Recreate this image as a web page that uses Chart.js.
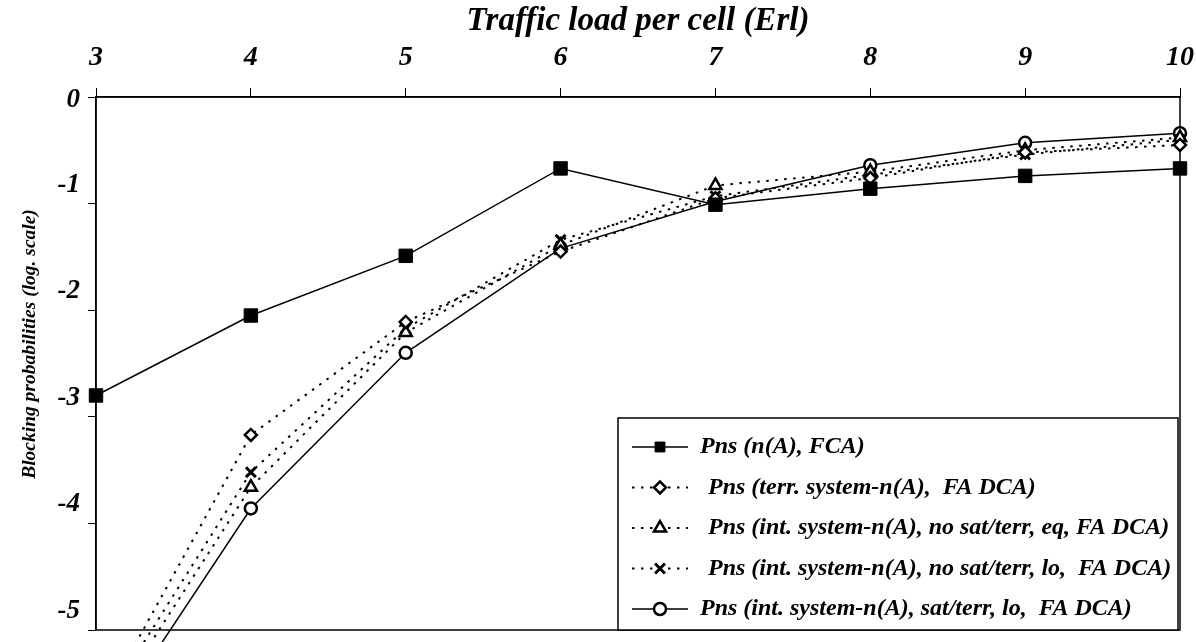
<!DOCTYPE html>
<html>
<head>
<meta charset="utf-8">
<script src="https://cdn.jsdelivr.net/npm/chart.js@4.4.0/dist/chart.umd.min.js"></script>
<style>
  html, body { margin: 0; padding: 0; background: #fff; }
</style>
</head>
<body>
<canvas id="chart" width="1196" height="642"></canvas>
<script>
// traffic load per cell (Erl)
const loads = [3, 4, 5, 6, 7, 8, 9, 10];

// log10 of blocking probability
const fcaValues      = [-2.80, -2.05, -1.49, -0.67, -1.01, -0.86, -0.74, -0.67];
const terrValues     = [-5.80, -3.17, -2.11, -1.45, -0.95, -0.76, -0.52, -0.45];
const intEqValues    = [-5.92, -3.66, -2.21, -1.39, -0.83, -0.70, -0.50, -0.38];
const intLoValues    = [-5.83, -3.52, -2.17, -1.34, -0.93, -0.73, -0.54, -0.40];
const satTerrValues  = [-6.05, -3.86, -2.40, -1.42, -0.98, -0.64, -0.43, -0.34];

const seriesLabels = [
	'Pns (n(A), FCA)',
	'Pns (terr. system-n(A),  FA DCA)',
	'Pns (int. system-n(A), no sat/terr, eq, FA DCA)',
	'Pns (int. system-n(A), no sat/terr, lo,  FA DCA)',
	'Pns (int. system-n(A), sat/terr, lo,  FA DCA)'
];

const xTitle = 'Traffic load per cell (Erl)';
const yTitle = 'Blocking probabilities (log. scale)';

const FONT = '"Liberation Serif", "Times New Roman", serif';
const dots = [2.5, 6.5];

const toPoints = vals => vals.map((v, i) => ({ x: loads[i], y: v }));

function series(label, vals, style, extra) {
	return Object.assign({
		label: label,
		data: toPoints(vals),
		borderColor: '#000',
		backgroundColor: '#000',
		pointBackgroundColor: '#fff',
		pointBorderColor: '#000',
		borderWidth: 1.5,
		pointStyle: style,
		pointRadius: 6,
		pointBorderWidth: 2.5,
		tension: 0,
		clip: false
	}, extra || {});
}

const datasets = [
	series(seriesLabels[0], fcaValues, 'rect', { pointRadius: 9.5, pointBackgroundColor: '#000', pointBorderWidth: 1 }),
	series(seriesLabels[1], terrValues, 'rectRot', { borderDash: dots, borderWidth: 2 }),
	series(seriesLabels[2], intEqValues, 'triangle', { borderDash: dots, borderWidth: 2, pointRadius: 7 }),
	series(seriesLabels[3], intLoValues, 'crossRot', { borderDash: dots, borderWidth: 2, pointRadius: 7, pointBorderWidth: 3 }),
	series(seriesLabels[4], satTerrValues, 'circle', {})
];

const TICK_FONT = 'italic bold 27px ' + FONT;

// plot frame, y title, the top "0" label and the boxed legend
const framePlugin = {
	id: 'frame',
	beforeDatasetsDraw(chart) {
		const { ctx, chartArea: a } = chart;
		ctx.save();
		ctx.strokeStyle = '#000';
		ctx.lineWidth = 1.5;
		ctx.strokeRect(a.left, a.top, a.right - a.left, a.bottom - a.top);

		// the "0" label sits on the top edge, the others are drawn a little high
		ctx.fillStyle = '#000';
		ctx.font = TICK_FONT;
		ctx.textAlign = 'right';
		ctx.textBaseline = 'middle';
		ctx.fillText('0', a.left - 16, chart.scales.y.getPixelForValue(0) + 3);

		ctx.translate(30, 344);
		ctx.rotate(-Math.PI / 2);
		ctx.font = 'italic bold 19.5px ' + FONT;
		ctx.textAlign = 'center';
		ctx.fillText(yTitle, 0, 0);
		ctx.restore();
	},
	afterDraw(chart) {
		const { ctx, chartArea: a } = chart;
		const w = 560, h = 212;
		const left = a.right - w - 2, top = a.bottom - h;
		ctx.save();
		ctx.fillStyle = '#fff';
		ctx.fillRect(left, top, w, h);
		ctx.strokeStyle = '#000';
		ctx.lineWidth = 1.5;
		ctx.strokeRect(left, top, w, h);

		chart.data.datasets.forEach((ds, i) => {
			const cy = top + 29 + i * 40.5;
			ctx.save();
			ctx.strokeStyle = '#000';
			ctx.lineWidth = ds.borderWidth;
			ctx.setLineDash(ds.borderDash || []);
			ctx.beginPath();
			ctx.moveTo(left + 14, cy);
			ctx.lineTo(left + 70, cy);
			ctx.stroke();
			ctx.setLineDash([]);
			ctx.fillStyle = ds.pointBackgroundColor;
			ctx.lineWidth = ds.pointBorderWidth;
			Chart.helpers.drawPoint(ctx, {
				pointStyle: ds.pointStyle,
				radius: ds.pointStyle === 'rect' ? 7 : ds.pointRadius,
				borderWidth: ds.pointBorderWidth,
				rotation: 0
			}, left + 42, cy);
			ctx.restore();

			ctx.fillStyle = '#000';
			ctx.font = 'italic bold 24px ' + FONT;
			ctx.textBaseline = 'middle';
			ctx.textAlign = 'left';
			ctx.fillText(ds.label, left + (ds.borderDash ? 90 : 82), cy);
		});
		ctx.restore();
	}
};

new Chart(document.getElementById('chart'), {
	type: 'line',
	data: { datasets: datasets },
	plugins: [framePlugin],
	options: {
		responsive: false,
		animation: false,
		devicePixelRatio: 1,
		layout: { padding: { left: 0, top: 0, right: 16, bottom: 12 } },
		plugins: { legend: { display: false }, tooltip: { enabled: false } },
		scales: {
			x: {
				type: 'linear',
				position: 'top',
				min: 3,
				max: 10,
				afterFit: s => { s.height = 97; s.paddingLeft = 0; s.paddingRight = 0; },
				ticks: {
					stepSize: 1,
					color: '#000',
					padding: 13,
					font: { family: FONT, size: 28, style: 'italic', weight: 'bold' }
				},
				grid: { drawOnChartArea: false, tickLength: 9, color: '#000' },
				border: { color: '#000', width: 1.5 },
				title: {
					display: true,
					text: xTitle,
					color: '#000',
					padding: { top: 2, bottom: 0 },
					font: { family: FONT, size: 33, style: 'italic', weight: 'bold' }
				}
			},
			y: {
				min: -5,
				max: 0,
				afterFit: s => { s.width = 96; s.paddingTop = 0; s.paddingBottom = 0; },
				ticks: {
					stepSize: 1,
					color: '#000',
					padding: 8,
					labelOffset: -19,
					font: { family: FONT, size: 27, style: 'italic', weight: 'bold' },
					callback: v => (v === 0 ? '' : v)
				},
				grid: { drawOnChartArea: false, tickLength: 8, color: '#000' },
				border: { color: '#000', width: 1.5 }
			}
		}
	}
});
</script>
</body>
</html>
